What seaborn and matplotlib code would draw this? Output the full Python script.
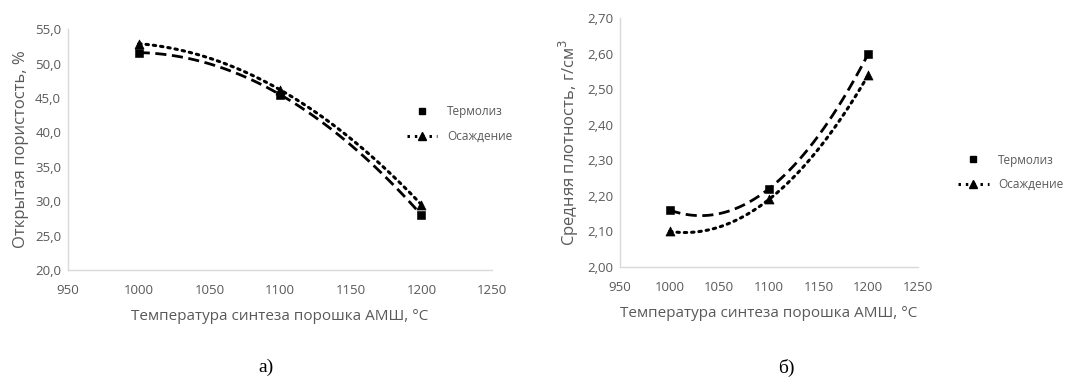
import numpy as np
import pandas as pd
import seaborn as sns
import matplotlib.pyplot as plt
from matplotlib.lines import Line2D

# data
temps = [1000, 1100, 1200]
poros_thermo = [51.6, 45.5, 28.0]
poros_precip = [52.9, 46.2, 29.5]
dens_thermo = [2.16, 2.22, 2.60]
dens_precip = [2.10, 2.19, 2.54]

series_names = ['Термолиз', 'Осаждение']
xlabel = 'Температура синтеза порошка АМШ, °C'
ylabel_a = 'Открытая пористость, %'
ylabel_b = 'Средняя плотность, г/см$^3$'

sns.set_style('white')
plt.rcParams['font.family'] = ['Open Sans', 'DejaVu Sans']
grey = '#595959'
axis_grey = '#d9d9d9'


def trend(x, y):
    # excel-style polynomial trendline (order 2)
    coef = np.polyfit(x, y, 2)
    xs = np.linspace(min(x), max(x), 100)
    return pd.DataFrame({'x': xs, 'y': np.polyval(coef, xs)})


def panel(ax, y1, y2, ylim, yticks, fmt, ylabel):
    t1 = trend(temps, y1)
    t2 = trend(temps, y2)
    sns.lineplot(data=t1, x='x', y='y', ax=ax, color='black', lw=2,
                 linestyle=(0, (4, 2)))
    sns.lineplot(data=t2, x='x', y='y', ax=ax, color='black', lw=2.2,
                 linestyle=(0, (0.8, 1.6)), dash_capstyle='round')
    sns.scatterplot(x=temps, y=y1, ax=ax, marker='s', s=28, color='black',
                    edgecolor='black', zorder=5)
    sns.scatterplot(x=temps, y=y2, ax=ax, marker='^', s=42, color='black',
                    edgecolor='black', zorder=5)
    ax.set_xlim(950, 1250)
    ax.set_xticks([950, 1000, 1050, 1100, 1150, 1200, 1250])
    ax.set_ylim(*ylim)
    ax.set_yticks(yticks)
    ax.set_yticklabels([fmt.format(v).replace('.', ',') for v in yticks])
    ax.tick_params(length=0, labelsize=9.5, colors=grey)
    ax.tick_params(axis='x', pad=10)
    ax.tick_params(axis='y', pad=5)
    for s in ['top', 'right']:
        ax.spines[s].set_visible(False)
    for s in ['left', 'bottom']:
        ax.spines[s].set_color(axis_grey)
        ax.spines[s].set_linewidth(1)
    ax.set_xlabel(xlabel, fontsize=11, color=grey, labelpad=9)
    ax.set_ylabel(ylabel, fontsize=12, color=grey, labelpad=4)


fig = plt.figure(figsize=(10.85, 3.78), dpi=100)
ax1 = fig.add_axes([0.0627, 0.2857, 0.3908, 0.637])
ax2 = fig.add_axes([0.5714, 0.2937, 0.2747, 0.6587])

panel(ax1, poros_thermo, poros_precip, (20, 55),
      np.arange(20, 55.1, 5), '{:.1f}', ylabel_a)
panel(ax2, dens_thermo, dens_precip, (2.0, 2.7),
      np.round(np.arange(2.0, 2.71, 0.1), 2), '{:.2f}', ylabel_b)

handles = [
    Line2D([], [], color='black', marker='s', markersize=5, linestyle='none'),
    Line2D([], [], color='black', marker='^', markersize=6, lw=2.2,
           linestyle=(0, (0.8, 1.6))),
]
fig.legend(handles, series_names, loc='upper left',
           bbox_to_anchor=(0.365, 0.75), frameon=False, fontsize=8.5,
           labelcolor=grey, handlelength=2.6, labelspacing=1.0)
fig.legend(handles, series_names, loc='upper left',
           bbox_to_anchor=(0.873, 0.622), frameon=False, fontsize=8.5,
           labelcolor=grey, handlelength=2.6, labelspacing=1.0)

fig.text(0.245, 0.027, 'а)', family='Liberation Serif', fontsize=14,
         ha='center', va='center', color='black')
fig.text(0.725, 0.027, 'б)', family='Liberation Serif', fontsize=14,
         ha='center', va='center', color='black')

fig.savefig('out.png', dpi=100)
